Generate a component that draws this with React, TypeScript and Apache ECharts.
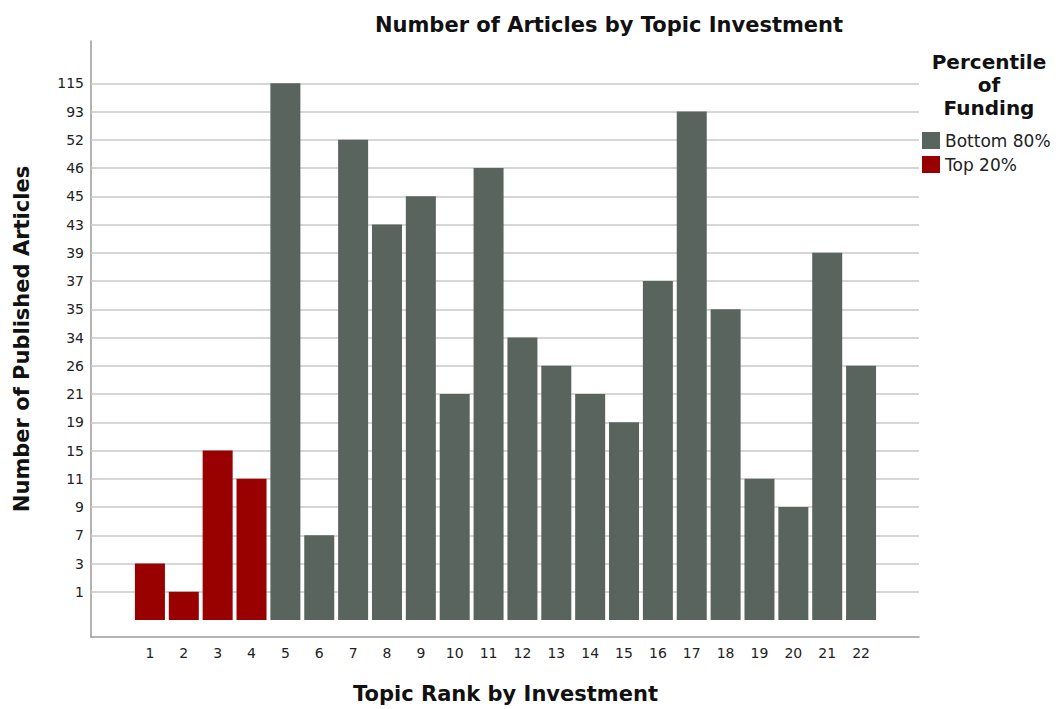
import React, { useEffect, useRef } from "react";
import * as echarts from "echarts";

// Ordinal tick labels on the y axis (evenly spaced, bottom to top)
const yTickLabels = [1, 3, 7, 9, 11, 15, 19, 21, 26, 34, 35, 37, 39, 43, 45, 46, 52, 93, 115];
// Topic ranks (x categories)
const ranks = ["1","2","3","4","5","6","7","8","9","10","11","12","13","14","15","16","17","18","19","20","21","22"];
// Number of published articles per rank
const articles = [3, 1, 15, 11, 115, 7, 52, 43, 45, 21, 46, 34, 26, 21, 19, 37, 93, 35, 11, 9, 39, 26];
// Funding group per rank
const groups = ["Top 20%","Top 20%","Top 20%","Top 20%","Bottom 80%","Bottom 80%","Bottom 80%","Bottom 80%","Bottom 80%","Bottom 80%","Bottom 80%","Bottom 80%","Bottom 80%","Bottom 80%","Bottom 80%","Bottom 80%","Bottom 80%","Bottom 80%","Bottom 80%","Bottom 80%","Bottom 80%","Bottom 80%"];
const seriesNames = ["Bottom 80%", "Top 20%"];
const seriesColors = ["#5a645f", "#990000"];

export default function App() {
  const ref = useRef<HTMLDivElement>(null);
  useEffect(() => {
    if (!ref.current) return;
    const chart = echarts.init(ref.current, null, { renderer: "svg" });
    const pos = articles.map((v) => yTickLabels.indexOf(v) + 1);
    const yMax = 20.5;
    const unit = (620 - 41) / yMax;
    const yMin1 = -(637 - 620) / unit;
    const font = "DejaVu Sans";
    const option: any = {
      animation: false,
      backgroundColor: "#ffffff",
      textStyle: { fontFamily: font },
      title: [
        {
          text: "Number of Articles by Topic Investment",
          left: 604,
          top: 9,
          textAlign: "center",
          textStyle: { fontFamily: font, fontSize: 21, fontWeight: "bold", color: "#111" },
        },
        {
          text: "Percentile\nof\nFunding",
          left: 984,
          top: 45,
          textAlign: "center",
          textStyle: { fontFamily: font, fontSize: 20, fontWeight: "bold", color: "#111", lineHeight: 23 },
        },
      ],
      legend: {
        orient: "vertical",
        left: 922,
        top: 132,
        itemWidth: 18,
        itemHeight: 17,
        itemGap: 7,
        icon: "rect",
        padding: 0,
        data: seriesNames,
        textStyle: { fontFamily: font, fontSize: 17, color: "#222" },
      },
      grid: [
        { left: 133, right: 1060 - 878, top: 41, bottom: 709 - 620 },
        { left: 91, right: 1060 - 919, top: 41, bottom: 709 - 637 },
      ],
      xAxis: [
        {
          type: "category",
          gridIndex: 0,
          data: ranks,
          offset: 17,
          axisLine: { show: false },
          axisTick: { show: false },
          axisLabel: { margin: 9, fontSize: 14, color: "#222", fontFamily: font },
          name: "Topic Rank by Investment",
          nameLocation: "middle",
          nameGap: 46,
          nameTextStyle: { fontFamily: font, fontSize: 21, fontWeight: "bold", color: "#111" },
        },
        {
          type: "value",
          gridIndex: 1,
          min: 0,
          max: 1,
          axisLine: { show: true, onZero: false, lineStyle: { color: "#9a9a9a", width: 1.5 } },
          axisTick: { show: false },
          axisLabel: { show: false },
          splitLine: { show: false },
        },
      ],
      yAxis: [
        {
          type: "value",
          gridIndex: 0,
          min: 0,
          max: yMax,
          interval: 1,
          axisLine: { show: false },
          axisTick: { show: false },
          splitLine: { show: false },
          axisLabel: {
            margin: 49,
            fontSize: 14,
            color: "#222",
            fontFamily: font,
            formatter: (v: number) =>
              Number.isInteger(v) && v >= 1 && v <= yTickLabels.length ? String(yTickLabels[v - 1]) : "",
          },
        },
        {
          type: "value",
          gridIndex: 1,
          min: yMin1,
          max: yMax,
          axisLine: { show: true, onZero: false, lineStyle: { color: "#9a9a9a", width: 1.5 } },
          axisTick: { show: false },
          axisLabel: { show: false },
          splitLine: { show: false },
          name: "Number of Published Articles",
          nameLocation: "middle",
          nameGap: 59,
          nameTextStyle: { fontFamily: font, fontSize: 21, fontWeight: "bold", color: "#111" },
        },
      ],
      series: [
        {
          type: "line",
          xAxisIndex: 1,
          yAxisIndex: 1,
          data: [],
          silent: true,
          markLine: {
            silent: true,
            symbol: "none",
            z: 1,
            label: { show: false },
            lineStyle: { color: "#c8c8c8", type: "solid", width: 1.5 },
            data: yTickLabels.map((_, i) => ({ yAxis: i + 1 })),
          },
        },
        ...seriesNames.map((name, si) => ({
          type: "bar",
          name,
          xAxisIndex: 0,
          yAxisIndex: 0,
          stack: "g",
          z: 3,
          barWidth: 30,
          itemStyle: { color: seriesColors[si] },
          data: pos.map((p, i) => (groups[i] === name ? p : null)),
        })),
      ],
    };
    chart.setOption(option);
    return () => chart.dispose();
  }, []);
  return <div ref={ref} style={{ position: "fixed", left: 0, top: 0, width: 1060, height: 709 }} />;
}
